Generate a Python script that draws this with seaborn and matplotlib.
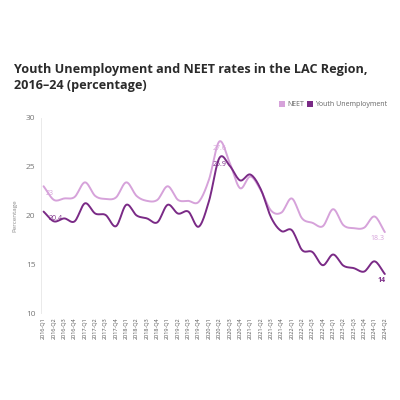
import numpy as np
import pandas as pd
import matplotlib
matplotlib.use("Agg")
import matplotlib.pyplot as plt
from matplotlib.patches import Patch
import seaborn as sns

quarters = [f"{y}-Q{q}" for y in range(2016, 2025) for q in range(1, 5)][:34]
neet = [23.0, 21.6, 21.75, 21.9, 23.4, 22.0, 21.7, 21.85, 23.4, 22.0, 21.5, 21.6,
        23.0, 21.6, 21.5, 21.4, 23.7, 27.6, 25.4, 22.8, 24.0, 22.6, 20.5, 20.3,
        21.75, 19.7, 19.25, 18.9, 20.65, 19.0, 18.7, 18.75, 19.9, 18.3]
youth = [20.4, 19.4, 19.7, 19.4, 21.25, 20.2, 20.05, 18.9, 21.1, 20.0, 19.7, 19.3,
         21.1, 20.2, 20.4, 18.85, 21.5, 25.9, 25.1, 23.6, 24.2, 22.7, 19.8, 18.4,
         18.5, 16.45, 16.25, 14.9, 16.0, 14.85, 14.6, 14.25, 15.3, 14.0]
y_ticks = [10, 15, 20, 25, 30]

NEET_C = "#d6a2da"
YU_C = "#7a2a86"


def smooth(vals, n=12):
    p = np.asarray(vals, float)
    p = np.concatenate([[2 * p[0] - p[1]], p, [2 * p[-1] - p[-2]]])
    xs, ys = [], []
    for i in range(1, len(p) - 2):
        p0, p1, p2, p3 = p[i - 1], p[i], p[i + 1], p[i + 2]
        t = np.linspace(0, 1, n, endpoint=False)
        y = 0.5 * ((2 * p1) + (-p0 + p2) * t + (2 * p0 - 5 * p1 + 4 * p2 - p3) * t ** 2
                   + (-p0 + 3 * p1 - 3 * p2 + p3) * t ** 3)
        xs.extend(i - 1 + t)
        ys.extend(y)
    xs.append(len(vals) - 1)
    ys.append(vals[-1])
    return np.array(xs), np.array(ys)


sns.set_theme(style="white")
plt.rcParams['font.family'] = ['Open Sans', 'DejaVu Sans']

fig = plt.figure(figsize=(4, 4), dpi=100)
ax = fig.add_axes([0.1025, 0.2175, 0.8725, 0.4875])

for vals, col in [(neet, NEET_C), (youth, YU_C)]:
    xs, ys = smooth(vals)
    df = pd.DataFrame({"x": xs, "y": ys})
    sns.lineplot(data=df, x="x", y="y", ax=ax, color=col, linewidth=1.4,
                 estimator=None, sort=False, legend=False)

ax.set_xlim(-0.25, 33.5)
ax.set_ylim(10, 30)
ax.set_yticks(y_ticks)
ax.set_yticklabels([str(v) for v in y_ticks], fontsize=6, color="#777777")
ax.set_xticks(range(len(quarters)))
ax.set_xticklabels(quarters, rotation=90, fontsize=4, color="#555555")
ax.tick_params(axis="y", length=2, color="#dddddd", pad=2)
ax.tick_params(axis="x", length=0, pad=3)
for s in ["top", "right", "bottom"]:
    ax.spines[s].set_visible(False)
ax.spines["left"].set_color("#e6e6e6")
ax.spines["left"].set_linewidth(0.6)
ax.set_xlabel("")
ax.set_ylabel("Percentage", fontsize=4.5, color="#888888", labelpad=6)

# data labels
lab = [(0, neet[0], "23", NEET_C, "left", 0.15), (0, youth[0], "20.4", YU_C, "left", 0.5),
       (17, neet[17], "27.6", NEET_C, "center", 0), (17, youth[17], "25.9", YU_C, "center", 0),
       (33, neet[33], "18.3", NEET_C, "right", 0), (33, youth[33], "14", YU_C, "right", 0.1)]
for xi, yv, txt, col, ha, dx in lab:
    ax.text(xi + dx, yv - 0.35, txt, color=col, fontsize=5, ha=ha, va="top",
            fontweight="bold" if txt == "14" else "normal")

handles = [Patch(facecolor=NEET_C, edgecolor="none"), Patch(facecolor=YU_C, edgecolor="none")]
leg = ax.legend(handles, ["NEET", "Youth Unemployment"], loc="lower right",
                bbox_to_anchor=(1.0, 1.035), ncol=2, frameon=False, fontsize=5,
                handlelength=0.8, handleheight=0.8, handletextpad=0.3,
                columnspacing=0.5, borderaxespad=0)
for t in leg.get_texts():
    t.set_color("#666666")

fig.text(0.035, 0.806, "Youth Unemployment and NEET rates in the LAC Region,\n2016–24 (percentage)",
         fontsize=9.1, fontweight="bold", color="#2b2b2b", ha="left", va="center",
         linespacing=1.25)

fig.savefig("out.png", dpi=100, facecolor="white")
